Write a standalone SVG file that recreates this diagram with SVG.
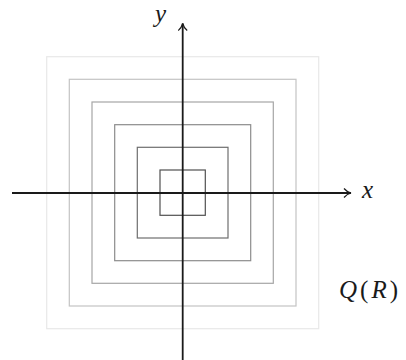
<svg xmlns="http://www.w3.org/2000/svg" width="406" height="360" viewBox="0 0 406 360">
<style>
.sq{fill:none;stroke-width:1.2}
.ax{stroke:#1a1a1a;stroke-width:1.8;fill:none}
.lbl{font-family:"Liberation Serif",serif;font-style:italic;font-size:25px;fill:#1a1a1a}
.up{font-style:normal}
</style>
<defs>
<marker id="arr" viewBox="0 0 10 10" refX="9" refY="5" markerWidth="10" markerHeight="10" markerUnits="userSpaceOnUse" orient="auto">
<path d="M2,0.5 Q5,4 9,5 Q5,6 2,9.5" fill="none" stroke="#1a1a1a" stroke-width="1.2"/>
</marker>
</defs>
<g id="squares">
<rect id="sq6" class="sq" x="46.7" y="56.7" width="272" height="272" stroke="#e8e8e8"/>
<rect id="sq5" class="sq" x="69.3" y="79.3" width="226.7" height="226.7" stroke="#c4c4c4"/>
<rect id="sq4" class="sq" x="92" y="102" width="181.3" height="181.3" stroke="#a6a6a6"/>
<rect id="sq3" class="sq" x="114.7" y="124.7" width="136" height="136" stroke="#8c8c8c"/>
<rect id="sq2" class="sq" x="137.3" y="147.3" width="90.7" height="90.7" stroke="#6e6e6e"/>
<rect id="sq1" class="sq" x="160" y="170" width="45.3" height="45.3" stroke="#505050"/>
</g>
<g id="connectors">
<line class="ax" x1="12" y1="193" x2="351" y2="193" marker-end="url(#arr)"/>
<line class="ax" x1="182.7" y1="360" x2="182.7" y2="23.5" marker-end="url(#arr)"/>
</g>
<g id="labels">
<text class="lbl" x="362" y="198">x</text>
<text class="lbl" x="155" y="22">y</text>
<text class="lbl" x="339" y="298" letter-spacing="3">Q<tspan class="up">(</tspan>R<tspan class="up">)</tspan></text>
</g>
</svg>
